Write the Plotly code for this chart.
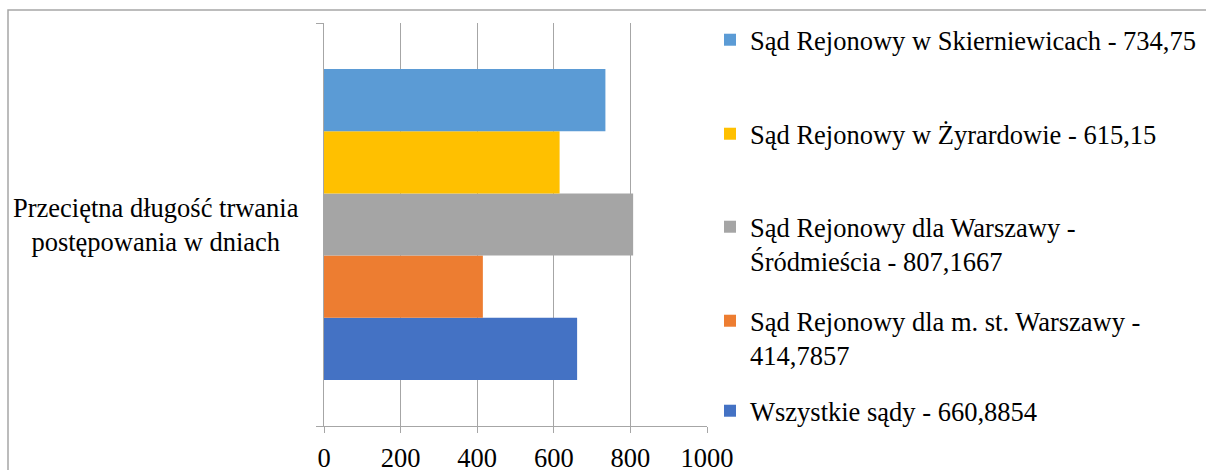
import plotly.graph_objects as go

# ---- data ----
categories = ["Przeciętna długość trwania<br>postępowania w dniach"]
courts = [
    "Wszystkie sądy",
    "Sąd Rejonowy dla m. st. Warszawy",
    "Sąd Rejonowy dla Warszawy -<br>Śródmieścia",
    "Sąd Rejonowy w Żyrardowie",
    "Sąd Rejonowy w Skierniewicach",
]
values = [660.8854, 414.7857, 807.1667, 615.15, 734.75]
value_sep = [" - ", " -<br>", " - ", " - ", " - "]
colors = ["#4472C4", "#ED7D31", "#A5A5A5", "#FFC000", "#5B9BD5"]
x_ticks = [0, 200, 400, 600, 800, 1000]

# ---- layout geometry (pixels) ----
W, H = 1206, 470
L, R, T, B = 324, 707, 23, 426  # plot area edges in pixels
pw, ph = R - L, B - T


def px_x(x):
    return (x - L) / pw


def px_y(y):
    return (B - y) / ph


FONT = "Liberation Serif, Times New Roman, serif"
FS = 26.5
GRAY = "#A6A6A6"

fig = go.Figure()
legend_names = ["legend", "legend2", "legend3", "legend4", "legend5"]
# legend first-line centres (pixels) for each trace (trace order)
legend_line_y = [413, 323, 229, 136, 42]

for i, (c, v, sep, col) in enumerate(zip(courts, values, value_sep, colors)):
    label = c + sep + str(v).replace(".", ",")
    fig.add_trace(go.Bar(
        y=categories, x=[v], orientation="h", name=label,
        marker=dict(color=col, line=dict(width=0)),
        legend=legend_names[i], hoverinfo="x+name",
    ))

legend_layout = {}
for i, ln in enumerate(legend_names):
    legend_layout[ln] = dict(
        x=px_x(710), xanchor="left",
        y=px_y(legend_line_y[i] - 26), yanchor="top",
        valign="top",
        font=dict(family=FONT, size=FS, color="#000000"),
        bgcolor="rgba(0,0,0,0)", borderwidth=0,
    )

fig.update_layout(
    width=W, height=H,
    margin=dict(l=L, r=W - R, t=T, b=H - B, pad=0, autoexpand=False),
    paper_bgcolor="white", plot_bgcolor="white",
    barmode="group", bargap=0.228, bargroupgap=0,
    showlegend=True,
    font=dict(family=FONT, size=FS, color="#000000"),
    xaxis=dict(
        range=[0, 1000], tickvals=x_ticks, ticktext=[str(t) for t in x_ticks],
        showgrid=True, gridcolor=GRAY, gridwidth=1,
        showline=True, linecolor=GRAY, linewidth=1.3,
        ticks="outside", ticklen=6, tickcolor=GRAY, tickwidth=1.3,
        zeroline=False, ticklabelstandoff=2,
        tickfont=dict(family=FONT, size=FS, color="#000000"),
    ),
    yaxis=dict(
        type="category", range=[-0.5, 0.5],
        showline=True, linecolor=GRAY, linewidth=1.3,
        ticks="outside", tickson="boundaries", ticklen=7, tickcolor=GRAY, tickwidth=1.3,
        showticklabels=False, showgrid=False, zeroline=False,
    ),
    shapes=[dict(
        type="rect", xref="paper", yref="paper",
        x0=px_x(8), x1=px_x(1215), y0=px_y(490), y1=px_y(10),
        line=dict(color=GRAY, width=1.5), fillcolor="rgba(0,0,0,0)", layer="below",
    )],
    annotations=[dict(
        xref="paper", yref="y", x=px_x(301), y=categories[0],
        xanchor="right", yanchor="middle", align="center",
        text=categories[0], showarrow=False,
        font=dict(family=FONT, size=FS, color="#000000"),
    )],
    **legend_layout,
)

fig.write_html(
    "out.html",
    config={"displayModeBar": False},
    post_script="document.body.style.margin='0';document.body.style.overflow='hidden';",
)
